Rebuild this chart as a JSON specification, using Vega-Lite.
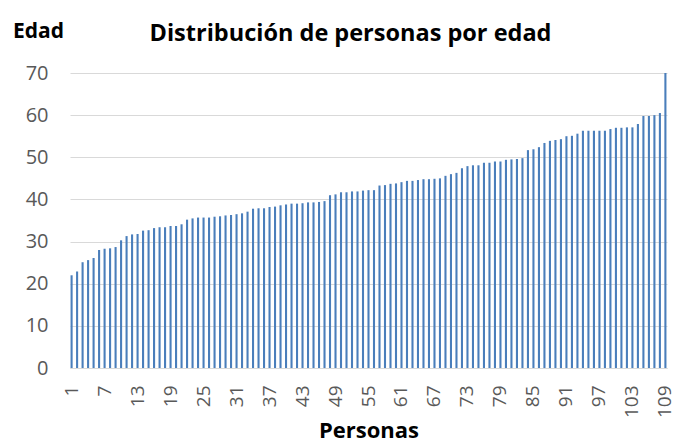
{
  "$schema": "https://vega.github.io/schema/vega-lite/v6.json",
  "autosize": "none",
  "width": 597,
  "height": 295,
  "padding": {"left": 70, "top": 73, "right": 22, "bottom": 78},
  "background": "white",
  "title": {
    "text": "Distribución de personas por edad",
    "anchor": "middle",
    "dx": -18,
    "offset": -25,
    "font": "Open Sans",
    "fontSize": 23.5,
    "fontWeight": "bold",
    "color": "#000000"
  },
  "config": {
    "view": {"stroke": null},
    "font": "Open Sans"
  },
  "data": {
    "values": [
      {"p": 1, "edad": 22.0}, {"p": 2, "edad": 22.9}, {"p": 3, "edad": 25.1}, {"p": 4, "edad": 25.6},
      {"p": 5, "edad": 26.1}, {"p": 6, "edad": 28.0}, {"p": 7, "edad": 28.3}, {"p": 8, "edad": 28.4},
      {"p": 9, "edad": 28.7}, {"p": 10, "edad": 30.3}, {"p": 11, "edad": 31.3}, {"p": 12, "edad": 31.7},
      {"p": 13, "edad": 31.8}, {"p": 14, "edad": 32.6}, {"p": 15, "edad": 32.7}, {"p": 16, "edad": 33.2},
      {"p": 17, "edad": 33.4}, {"p": 18, "edad": 33.4}, {"p": 19, "edad": 33.7}, {"p": 20, "edad": 33.7},
      {"p": 21, "edad": 34.1}, {"p": 22, "edad": 35.2}, {"p": 23, "edad": 35.5}, {"p": 24, "edad": 35.7},
      {"p": 25, "edad": 35.7}, {"p": 26, "edad": 35.7}, {"p": 27, "edad": 35.9}, {"p": 28, "edad": 36.0},
      {"p": 29, "edad": 36.2}, {"p": 30, "edad": 36.3}, {"p": 31, "edad": 36.5}, {"p": 32, "edad": 36.7},
      {"p": 33, "edad": 37.1}, {"p": 34, "edad": 37.8}, {"p": 35, "edad": 37.9}, {"p": 36, "edad": 37.9},
      {"p": 37, "edad": 38.2}, {"p": 38, "edad": 38.3}, {"p": 39, "edad": 38.6}, {"p": 40, "edad": 38.8},
      {"p": 41, "edad": 39.0}, {"p": 42, "edad": 39.0}, {"p": 43, "edad": 39.1}, {"p": 44, "edad": 39.3},
      {"p": 45, "edad": 39.3}, {"p": 46, "edad": 39.4}, {"p": 47, "edad": 39.6}, {"p": 48, "edad": 41.0},
      {"p": 49, "edad": 41.2}, {"p": 50, "edad": 41.7}, {"p": 51, "edad": 41.7}, {"p": 52, "edad": 41.9},
      {"p": 53, "edad": 41.9}, {"p": 54, "edad": 42.1}, {"p": 55, "edad": 42.2}, {"p": 56, "edad": 42.2},
      {"p": 57, "edad": 43.3}, {"p": 58, "edad": 43.4}, {"p": 59, "edad": 43.7}, {"p": 60, "edad": 43.8},
      {"p": 61, "edad": 44.1}, {"p": 62, "edad": 44.4}, {"p": 63, "edad": 44.4}, {"p": 64, "edad": 44.6},
      {"p": 65, "edad": 44.8}, {"p": 66, "edad": 44.8}, {"p": 67, "edad": 44.9}, {"p": 68, "edad": 45.0},
      {"p": 69, "edad": 45.6}, {"p": 70, "edad": 46.0}, {"p": 71, "edad": 46.3}, {"p": 72, "edad": 47.4},
      {"p": 73, "edad": 47.9}, {"p": 74, "edad": 48.1}, {"p": 75, "edad": 48.1}, {"p": 76, "edad": 48.7},
      {"p": 77, "edad": 48.7}, {"p": 78, "edad": 49.0}, {"p": 79, "edad": 49.0}, {"p": 80, "edad": 49.4},
      {"p": 81, "edad": 49.5}, {"p": 82, "edad": 49.6}, {"p": 83, "edad": 49.8}, {"p": 84, "edad": 51.7},
      {"p": 85, "edad": 51.9}, {"p": 86, "edad": 52.4}, {"p": 87, "edad": 53.4}, {"p": 88, "edad": 53.9},
      {"p": 89, "edad": 54.1}, {"p": 90, "edad": 54.3}, {"p": 91, "edad": 55.0}, {"p": 92, "edad": 55.1},
      {"p": 93, "edad": 55.6}, {"p": 94, "edad": 56.3}, {"p": 95, "edad": 56.3}, {"p": 96, "edad": 56.3},
      {"p": 97, "edad": 56.3}, {"p": 98, "edad": 56.3}, {"p": 99, "edad": 56.7}, {"p": 100, "edad": 57.0},
      {"p": 101, "edad": 57.0}, {"p": 102, "edad": 57.1}, {"p": 103, "edad": 57.1}, {"p": 104, "edad": 57.9},
      {"p": 105, "edad": 59.8}, {"p": 106, "edad": 59.8}, {"p": 107, "edad": 60.0}, {"p": 108, "edad": 60.5},
      {"p": 109, "edad": 70.0}
    ]
  },
  "mark": {"type": "bar", "color": "#4a7ebb"},
  "encoding": {
    "x": {
      "field": "p",
      "type": "ordinal",
      "sort": "ascending",
      "scale": {"paddingInner": 0.62, "paddingOuter": 0.1},
      "axis": {
        "values": [1, 7, 13, 19, 25, 31, 37, 43, 49, 55, 61, 67, 73, 79, 85, 91, 97, 103, 109],
        "labelAngle": 270,
        "labelAlign": "right",
        "labelBaseline": "middle",
        "labelFontSize": 19,
        "labelColor": "#595959",
        "labelPadding": 17,
        "ticks": false,
        "domainColor": "#d9d9d9",
        "domainWidth": 1,
        "title": "Personas",
        "titleFontSize": 22,
        "titleFontWeight": "bold",
        "titleColor": "#000000",
        "titlePadding": 3
      }
    },
    "y": {
      "field": "edad",
      "type": "quantitative",
      "scale": {"domain": [0, 70], "nice": false},
      "axis": {
        "values": [0, 10, 20, 30, 40, 50, 60, 70],
        "domain": false,
        "ticks": false,
        "gridColor": "#d9d9d9",
        "gridWidth": 1,
        "labelFontSize": 20,
        "labelColor": "#595959",
        "labelPadding": 22,
        "title": "Edad",
        "titleAngle": 0,
        "titleAlign": "center",
        "titleBaseline": "middle",
        "titleX": -32,
        "titleY": -42,
        "titleFontSize": 21,
        "titleFontWeight": "bold",
        "titleColor": "#000000"
      }
    }
  }
}
